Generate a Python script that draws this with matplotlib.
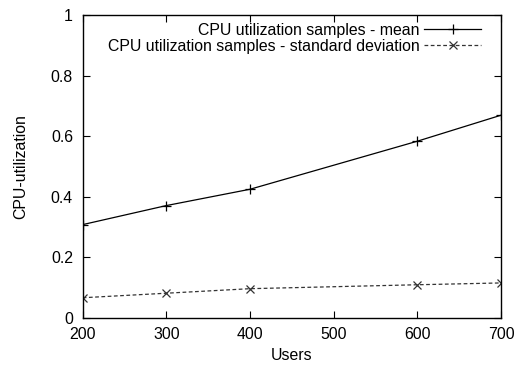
import matplotlib
matplotlib.use('Agg')
import matplotlib.pyplot as plt

plt.rcParams['font.family'] = ['Liberation Sans', 'DejaVu Sans']

users = [200, 300, 400, 600, 700]
cpu_mean = [0.308, 0.371, 0.425, 0.584, 0.670]
cpu_std = [0.066, 0.081, 0.096, 0.109, 0.115]

fs = 11.4
fig = plt.figure(figsize=(5.2, 3.65), dpi=100)
ax = fig.add_axes([0.159, 0.1296, 0.8045, 0.828])

ax.plot(users, cpu_mean, color='black', lw=0.9, marker='+', ms=7, mew=0.9,
        label='CPU utilization samples - mean')
ax.plot(users, cpu_std, color='#333333', lw=0.9, ls=(0, (3, 2)), marker='x', ms=6, mew=0.9,
        label='CPU utilization samples - standard deviation')

ax.set_xlim(200, 700)
ax.set_ylim(0, 1)
ax.set_xticks([200, 300, 400, 500, 600, 700])
ax.set_yticks([0, 0.2, 0.4, 0.6, 0.8, 1])
ax.set_yticklabels(['0', '0.2', '0.4', '0.6', '0.8', '1'])
ax.tick_params(direction='in', top=True, right=True, length=5, width=0.8, labelsize=fs)
ax.tick_params(axis='x', pad=7)
ax.tick_params(axis='y', pad=7)
for s in ax.spines.values():
    s.set_linewidth(1.0)

ax.set_xlabel('Users', fontsize=fs, labelpad=4)
ax.set_ylabel('CPU-utilization', fontsize=fs, labelpad=16)

ax.legend(loc='upper right', frameon=False, markerfirst=False, fontsize=fs,
          handlelength=3.6, borderaxespad=0.2, borderpad=0.4, labelspacing=0.05,
          handletextpad=0.3, bbox_to_anchor=(0.975, 1.007))

fig.savefig('out.png', dpi=100)
